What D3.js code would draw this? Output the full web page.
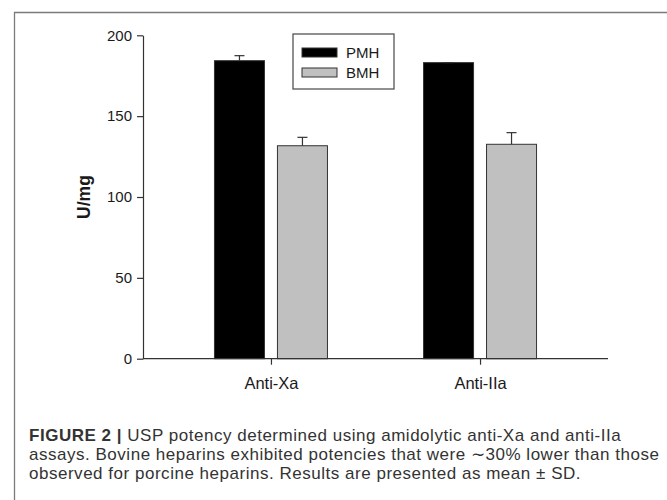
<!DOCTYPE html>
<html>
<head>
<meta charset="utf-8">
<script src="https://cdn.jsdelivr.net/npm/d3@7"></script>
<style>
  body { margin: 0; background: #fff; }
  svg { display: block; font-family: "Liberation Sans", Arial, sans-serif; }
</style>
</head>
<body>
<div id="chart"></div>
<script>
// USP potency, PMH vs BMH, mean and SD
var assays = ["Anti-Xa", "Anti-IIa"],
    series = ["PMH", "BMH"],
    pmhMean = [184.3, 183.1],
    pmhSD = [3.1, 0],
    bmhMean = [131.7, 132.6],
    bmhSD = [5.2, 7.2],
    yTicks = [0, 50, 100, 150, 200],
    seriesFill = ["#000000", "#c0c0c0"],
    caption = [
      "USP potency determined using amidolytic anti-Xa and anti-IIa",
      "assays. Bovine heparins exhibited potencies that were \u223C30% lower than those",
      "observed for porcine heparins. Results are presented as mean \u00B1 SD."
    ];

var W = 667, H = 500,
    plotLeft = 143, plotRight = 608, plotTop = 35.3, plotBottom = 358.7;

// rows for drawing
var rows = [];
assays.forEach(function(a, i) {
  rows.push({assay: a, key: "PMH", mean: pmhMean[i], sd: pmhSD[i]});
  rows.push({assay: a, key: "BMH", mean: bmhMean[i], sd: bmhSD[i]});
});

var svg = d3.select("#chart").append("svg")
    .attr("width", W).attr("height", H);

// outer frame (only left and top are inside the picture)
svg.append("path")
    .attr("d", "M14.5," + H + "V12.5H" + W)
    .attr("fill", "none")
    .attr("stroke", "#7a7a7a")
    .attr("stroke-width", 1.3);

var y = d3.scaleLinear().domain([0, 200]).range([plotBottom, plotTop]);
var x = d3.scalePoint().domain(assays).range([plotLeft, plotRight]).padding(0.612);
var xs = d3.scaleBand().domain(series).range([-56.5, 56.5]).paddingInner(0.206);
var color = d3.scaleOrdinal().domain(series).range(seriesFill);

// bars
svg.append("g").selectAll("rect")
  .data(rows)
  .join("rect")
    .attr("x", function(d) { return x(d.assay) + xs(d.key); })
    .attr("y", function(d) { return y(d.mean); })
    .attr("width", xs.bandwidth())
    .attr("height", function(d) { return y(0) - y(d.mean); })
    .attr("fill", function(d) { return color(d.key); })
    .attr("stroke", "#333")
    .attr("stroke-width", 1);

// error bars, upper half only
var eb = svg.append("g").attr("stroke", "#333").attr("stroke-width", 1.2);
rows.forEach(function(d) {
  var cx = x(d.assay) + xs(d.key) + xs.bandwidth() / 2;
  eb.append("line")
      .attr("x1", cx).attr("x2", cx)
      .attr("y1", y(d.mean)).attr("y2", y(d.mean + d.sd));
  eb.append("line")
      .attr("x1", cx - 5).attr("x2", cx + 5)
      .attr("y1", y(d.mean + d.sd)).attr("y2", y(d.mean + d.sd));
});

// axes
var yAxis = svg.append("g")
    .attr("transform", "translate(" + plotLeft + ",0)")
    .call(d3.axisLeft(y).tickValues(yTicks).tickSizeInner(6).tickSizeOuter(0).tickPadding(5));
yAxis.selectAll("text").attr("font-size", 15).attr("fill", "#1a1a1a")
    .attr("font-family", "Liberation Sans, Arial, sans-serif");

var xAxis = svg.append("g")
    .attr("transform", "translate(0," + plotBottom + ")");
xAxis.call(d3.axisBottom(x).tickSizeInner(6).tickSizeOuter(0).tickPadding(13));
xAxis.select(".domain").remove();
xAxis.append("line")
    .attr("x1", plotLeft).attr("x2", plotRight)
    .attr("stroke", "#333").attr("stroke-width", 1.2);
xAxis.selectAll("text").attr("font-size", 16.5).attr("fill", "#1a1a1a")
    .attr("font-family", "Liberation Sans, Arial, sans-serif");

svg.selectAll(".domain, .tick line").attr("stroke", "#333").attr("stroke-width", 1.2);

// y label
svg.append("text")
    .attr("transform", "translate(89.5," + y(100) + ") rotate(-90)")
    .attr("text-anchor", "middle")
    .attr("font-size", 17.5)
    .attr("font-weight", "bold")
    .attr("fill", "#1a1a1a")
    .text("U/mg");

// legend
var lg = svg.append("g").attr("transform", "translate(293,34)");
lg.append("rect")
    .attr("width", 101).attr("height", 55)
    .attr("fill", "#fff").attr("stroke", "#555").attr("stroke-width", 1.3);
series.forEach(function(s, i) {
  lg.append("rect")
      .attr("x", 9).attr("y", 14 + i * 20)
      .attr("width", 35).attr("height", 9)
      .attr("fill", color(s)).attr("stroke", "#333").attr("stroke-width", 1);
  lg.append("text")
      .attr("x", 53).attr("y", 18.5 + i * 20)
      .attr("dy", "0.35em")
      .attr("font-size", 15)
      .attr("fill", "#1a1a1a")
      .text(s);
});

// caption
var cap = svg.append("text")
    .attr("x", 29)
    .attr("y", 440.7)
    .attr("font-size", 17)
    .attr("letter-spacing", "0.52px")
    .attr("fill", "#333")
    .attr("font-family", "Liberation Sans, Arial, sans-serif");
caption.forEach(function(line, i) {
  var t = cap.append("tspan").attr("x", 29).attr("dy", i ? 19 : 0);
  if (i === 0) {
    t.append("tspan").attr("font-weight", "bold").text("FIGURE 2 | ");
    t.append("tspan").text(line);
  } else {
    t.text(line);
  }
});
</script>
</body>
</html>
